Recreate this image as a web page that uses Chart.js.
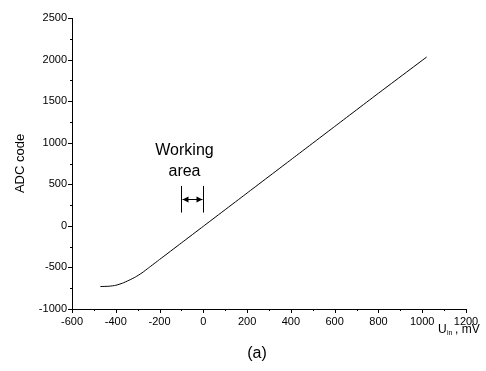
<!DOCTYPE html>
<html>
<head>
<meta charset="utf-8">
<script src="https://cdn.jsdelivr.net/npm/chart.js@4"></script>
<style>
  html, body { margin: 0; padding: 0; background: #fff; }
  #wrap { width: 486px; height: 371px; }
</style>
</head>
<body>
<div id="wrap"><canvas id="adcChart"></canvas></div>
<script>
// 入力電圧 (mV) と ADC コード
const uIn = [-470, -430, -400, -370, -340, -310, -280, -250, -200, -100, 0, 200, 400, 600, 800, 1020];
const adcCode = [-730, -726, -715, -690, -655, -615, -565, -505, -405, -205, -5, 395, 795, 1195, 1595, 2030];

const xTicks = [-600, -400, -200, 0, 200, 400, 600, 800, 1000, 1200];
const yTicks = [-1000, -500, 0, 500, 1000, 1500, 2000, 2500];

// 作動範囲 (mV) と注釈の縦線の範囲
const workArea = [-100, 0];
const workBar = [160, 480];
const workArrowY = 320;

const FONT = '"Liberation Sans", Arial, sans-serif';

// 目盛り・注釈を描くプラグイン
const decorations = {
  id: 'decorations',
  afterDraw(chart) {
    const ctx = chart.ctx;
    const x = chart.scales.x, y = chart.scales.y;
    const area = chart.chartArea;
    ctx.save();
    ctx.strokeStyle = '#000';
    ctx.lineWidth = 1;
    // x 軸の目盛り
    for (let v = -600; v <= 1200; v += 100) {
      const px = Math.round(x.getPixelForValue(v)) + 0.5;
      const len = v % 200 === 0 ? 4 : 2;
      ctx.beginPath();
      ctx.moveTo(px, area.bottom);
      ctx.lineTo(px, area.bottom + len);
      ctx.stroke();
    }
    // y 軸の目盛り
    for (let v = -1000; v <= 2500; v += 250) {
      const py = Math.round(y.getPixelForValue(v)) + 0.5;
      const len = v % 500 === 0 ? 4 : 2;
      ctx.beginPath();
      ctx.moveTo(area.left, py);
      ctx.lineTo(area.left - len, py);
      ctx.stroke();
    }

    // Working area の注釈
    const x1 = Math.round(x.getPixelForValue(workArea[0])) + 0.5;
    const x2 = Math.round(x.getPixelForValue(workArea[1])) + 0.5;
    const yt = y.getPixelForValue(workBar[1]);
    const yb = y.getPixelForValue(workBar[0]);
    const ya = Math.round(y.getPixelForValue(workArrowY)) + 0.5;
    ctx.beginPath();
    ctx.moveTo(x1, yt); ctx.lineTo(x1, yb);
    ctx.moveTo(x2, yt); ctx.lineTo(x2, yb);
    ctx.moveTo(x1 + 1, ya); ctx.lineTo(x2 - 1, ya);
    ctx.stroke();
    ctx.fillStyle = '#000';
    ctx.beginPath();
    ctx.moveTo(x1 + 1, ya); ctx.lineTo(x1 + 7, ya - 3); ctx.lineTo(x1 + 7, ya + 3); ctx.closePath();
    ctx.moveTo(x2 - 1, ya); ctx.lineTo(x2 - 7, ya - 3); ctx.lineTo(x2 - 7, ya + 3); ctx.closePath();
    ctx.fill();

    ctx.font = '16px ' + FONT;
    ctx.textAlign = 'center';
    ctx.textBaseline = 'middle';
    const cx = (x1 + x2) / 2 - 8;
    ctx.fillText('Working', cx, yt - 35);
    ctx.fillText('area', cx, yt - 14);

    // 軸タイトル
    ctx.save();
    ctx.font = '13px ' + FONT;
    ctx.translate(20, (area.top + area.bottom) / 2);
    ctx.rotate(-Math.PI / 2);
    ctx.fillText('ADC code', 0, 0);
    ctx.restore();

    ctx.textAlign = 'left';
    ctx.font = '12px ' + FONT;
    ctx.fillText('U', 438, 330);
    ctx.font = '7px ' + FONT;
    ctx.fillText('in', 447, 333);
    ctx.font = '12px ' + FONT;
    ctx.fillText(', mV', 455, 330);

    ctx.textAlign = 'center';
    ctx.font = '16px ' + FONT;
    ctx.fillText('(a)', 257, 354);
    ctx.restore();
  }
};

const ctx = document.getElementById('adcChart').getContext('2d');
const adcChart = new Chart(ctx, {
  type: 'line',
  data: {
    datasets: [{
      data: uIn.map((v, i) => ({ x: v, y: adcCode[i] })),
      borderColor: '#000',
      borderWidth: 1,
      pointRadius: 0,
      tension: 0.15,
      fill: false
    }]
  },
  options: {
    responsive: true,
    maintainAspectRatio: false,
    animation: false,
    layout: { padding: { top: 18, right: 20, left: 0, bottom: 0 } },
    plugins: { legend: { display: false }, tooltip: { enabled: false } },
    scales: {
      x: {
        type: 'linear',
        min: -600,
        max: 1200,
        afterBuildTicks: s => { s.ticks = xTicks.map(v => ({ value: v })); },
        afterFit: s => { s.height = 62; },
        grid: { display: true, drawOnChartArea: false, drawTicks: false },
        border: { display: true, color: '#000', width: 1 },
        ticks: { color: '#000', font: { family: FONT, size: 11 }, padding: 6, maxRotation: 0, callback: v => String(v) }
      },
      y: {
        type: 'linear',
        min: -1000,
        max: 2500,
        afterBuildTicks: s => { s.ticks = yTicks.map(v => ({ value: v })); },
        afterFit: s => { s.width = 72; },
        grid: { display: true, drawOnChartArea: false, drawTicks: false },
        border: { display: true, color: '#000', width: 1 },
        ticks: { color: '#000', font: { family: FONT, size: 11 }, padding: 5, callback: v => String(v) }
      }
    }
  },
  plugins: [decorations]
});
</script>
</body>
</html>
